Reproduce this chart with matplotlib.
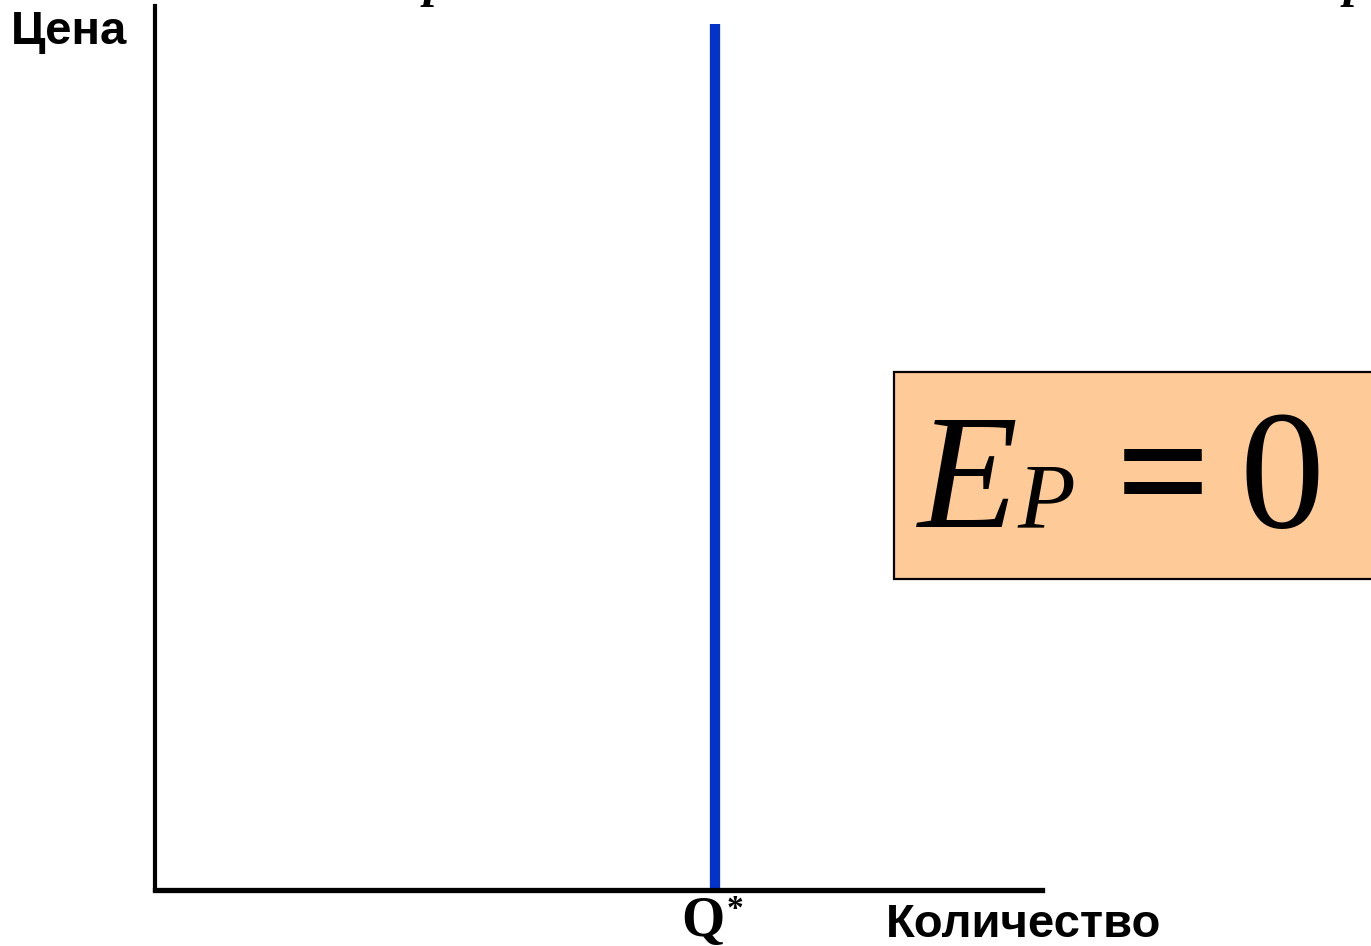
import matplotlib.pyplot as plt
from matplotlib.patches import Rectangle

# perfectly inelastic supply: vertical line at Q*
q_star = [6.31, 6.31]
price_range = [0.0, 9.80]

x_label = 'Количество'
y_label = 'Цена'
q_label = 'Q'
elasticity_text = ['E', 'P', '=', '0']

W, H = 1371, 946
fig = plt.figure(figsize=(W / 100, H / 100), dpi=100)

def fx(px):
    return px / W

def fy(py):
    return 1 - py / H

ax = fig.add_axes([fx(154.7), fy(889.5), fx(1042) - fx(154.7), fy(6) - fy(889.5)])
ax.set_xlim(0, 10)
ax.set_ylim(0, 10)
ax.plot(q_star, price_range, color='#0433cc', lw=7.4, solid_capstyle='butt')

for s in ['top', 'right']:
    ax.spines[s].set_visible(False)
ax.spines['left'].set_linewidth(3.0)
ax.spines['bottom'].set_linewidth(3.8)
ax.set_xticks([])
ax.set_yticks([])

# axis labels
fig.text(fx(11), fy(44), y_label, fontsize=34, fontweight='bold',
         family='Liberation Sans', ha='left', va='baseline')
fig.text(fx(886), fy(937), x_label, fontsize=34, fontweight='bold',
         family='Liberation Sans', ha='left', va='baseline')
fig.text(fx(681), fy(936), q_label, fontsize=40, fontweight='bold',
         family='Liberation Serif', ha='left', va='baseline')
fig.text(fx(727), fy(918), '*', fontsize=24, fontweight='bold',
         family='Liberation Serif', ha='left', va='baseline')

# cut-off title descenders at the top
for xp in [424, 1344]:
    fig.text(fx(xp), fy(-4), 'р', fontsize=36, fontweight='bold', style='italic',
             family='Liberation Serif', ha='left', va='baseline')

# elasticity box
fig.patches.append(Rectangle((fx(894), fy(579)), fx(1400) - fx(894), fy(372) - fy(579),
                             transform=fig.transFigure, facecolor='#fecb98',
                             edgecolor='black', lw=1.6, zorder=1))
fig.text(fx(918), fy(527), elasticity_text[0], fontsize=118, style='italic',
         family='Liberation Serif', ha='left', va='baseline')
fig.text(fx(1018), fy(527), elasticity_text[1], fontsize=68, style='italic',
         family='Liberation Serif', ha='left', va='baseline')
fig.text(fx(1116), fy(527), elasticity_text[2], fontsize=120, fontweight='bold',
         family='Liberation Serif', ha='left', va='baseline')
fig.text(fx(1240), fy(527), elasticity_text[3], fontsize=122,
         family='Liberation Serif', ha='left', va='baseline')

fig.savefig('out.png', dpi=100)
